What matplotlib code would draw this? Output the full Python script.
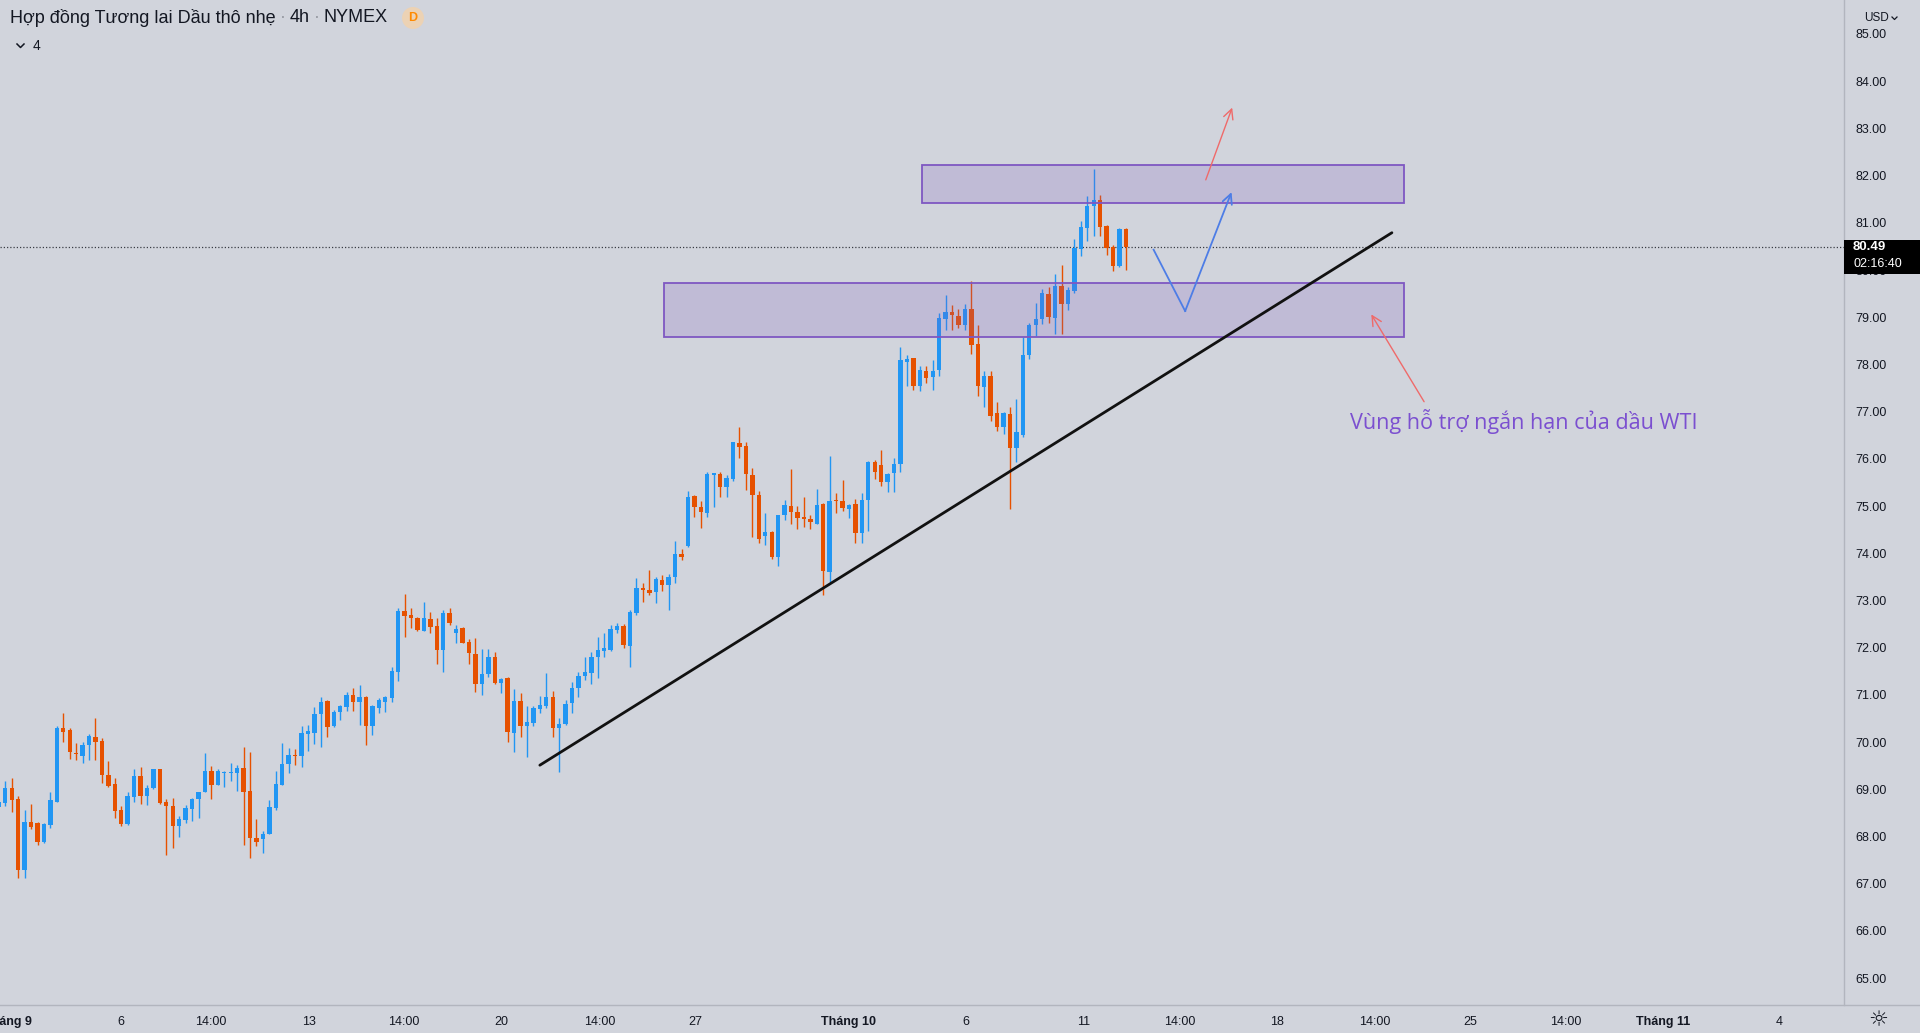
import matplotlib
matplotlib.use("Agg")
import matplotlib.pyplot as plt
import matplotlib.patches as mpatches
import matplotlib.transforms as mtransforms
from matplotlib.lines import Line2D

# ---------------- data (4h candles, Light Crude Oil Futures, NYMEX) ----------------
opens = [68.62, 68.71, 69.03, 68.79, 67.30, 68.30, 68.28, 67.89, 68.25, 68.74,
         70.30, 70.26, 69.75, 69.71, 69.93, 70.11, 70.03, 69.30, 69.11, 68.56,
         68.26, 68.84, 69.28, 68.86, 69.03, 69.42, 68.73, 68.65, 68.23, 68.35,
         68.59, 68.80, 68.95, 69.38, 69.09, 69.34, 69.35, 69.35, 69.45, 68.96,
         67.97, 67.95, 68.06, 68.61, 69.10, 69.53, 69.71, 69.71, 70.18, 70.20,
         70.59, 70.88, 70.33, 70.63, 70.75, 71.00, 70.84, 70.96, 70.33, 70.73,
         70.85, 70.94, 71.49, 72.78, 72.70, 72.63, 72.36, 72.61, 72.46, 71.94,
         72.73, 72.30, 72.42, 72.13, 71.86, 71.22, 71.44, 71.81, 71.26, 71.35,
         70.20, 70.88, 70.34, 70.41, 70.71, 70.77, 70.96, 70.30, 70.38, 70.82,
         71.14, 71.39, 71.47, 71.80, 71.93, 71.95, 72.37, 72.46, 72.04, 72.73,
         73.27, 73.22, 73.17, 73.43, 73.33, 73.50, 73.99, 74.16, 75.22, 74.97,
         74.85, 75.66, 75.68, 75.40, 75.57, 76.33, 76.27, 75.66, 75.24, 74.37,
         74.44, 73.91, 74.80, 75.00, 74.88, 74.77, 74.73, 74.63, 75.04, 73.61,
         75.13, 75.11, 74.94, 75.04, 74.42, 75.13, 75.94, 75.87, 75.50, 75.69,
         75.89, 78.06, 78.13, 77.55, 77.87, 77.74, 77.88, 78.96, 79.12, 79.03,
         78.84, 79.17, 78.43, 77.53, 77.76, 76.98, 76.68, 76.95, 76.22, 76.51,
         78.19, 78.84, 78.96, 79.49, 78.99, 79.66, 79.28, 79.56, 80.44, 80.90,
         81.36, 81.48, 80.93, 80.48, 80.09, 80.86]
highs = [68.80, 69.18, 69.24, 68.85, 68.56, 68.69, 68.31, 68.28, 68.95, 70.34,
         70.61, 70.29, 69.97, 70.01, 70.18, 70.52, 70.08, 69.60, 69.24, 68.64,
         68.95, 69.42, 69.48, 69.09, 69.42, 69.42, 68.79, 68.82, 68.44, 68.66,
         68.81, 68.94, 69.76, 69.49, 69.43, 69.39, 69.55, 69.51, 69.89, 69.79,
         68.38, 68.12, 68.78, 69.39, 69.97, 69.87, 69.85, 70.35, 70.36, 70.75,
         70.96, 70.89, 70.68, 70.78, 71.07, 71.14, 71.21, 70.98, 70.78, 70.94,
         70.98, 71.60, 72.83, 73.14, 72.85, 72.66, 72.97, 72.76, 72.62, 72.80,
         72.85, 72.48, 72.44, 72.18, 72.21, 71.98, 71.98, 71.91, 71.35, 71.37,
         71.12, 71.03, 70.76, 70.76, 70.98, 71.47, 71.08, 70.50, 70.89, 71.28,
         71.49, 71.80, 71.90, 72.22, 72.30, 72.48, 72.53, 72.50, 72.80, 73.48,
         73.38, 73.64, 73.50, 73.54, 73.57, 74.27, 74.09, 75.31, 75.23, 75.11,
         75.73, 75.71, 75.73, 75.66, 76.36, 76.67, 76.36, 75.80, 75.32, 74.86,
         74.48, 74.81, 75.13, 75.78, 75.00, 75.20, 74.81, 75.37, 75.07, 76.05,
         75.28, 75.56, 75.04, 75.14, 75.28, 75.96, 75.97, 76.19, 75.69, 76.01,
         78.36, 78.20, 78.14, 77.97, 77.97, 78.09, 79.08, 79.47, 79.26, 79.17,
         79.29, 79.77, 78.84, 77.86, 77.86, 77.21, 77.00, 77.09, 77.26, 78.59,
         78.87, 79.31, 79.59, 79.63, 79.91, 80.11, 79.65, 80.65, 81.03, 81.57,
         82.15, 81.59, 80.95, 80.53, 80.88, 80.88]
lows = [68.52, 68.64, 68.52, 67.11, 67.11, 68.15, 67.83, 67.87, 68.17, 68.74,
        70.01, 69.65, 69.63, 69.56, 69.62, 69.62, 69.14, 69.04, 68.40, 68.22,
        68.24, 68.73, 68.69, 68.66, 69.00, 68.69, 67.61, 67.75, 67.99, 68.29,
        68.33, 68.40, 68.95, 68.80, 69.08, 69.05, 69.18, 68.97, 67.82, 67.55,
        67.80, 67.65, 68.05, 68.57, 69.09, 69.34, 69.51, 69.48, 69.82, 69.95,
        69.90, 70.10, 70.31, 70.47, 70.66, 70.66, 70.36, 69.94, 70.15, 70.62,
        70.64, 70.85, 71.30, 72.23, 72.42, 72.36, 72.36, 72.32, 71.65, 71.49,
        72.47, 72.10, 72.09, 71.65, 71.07, 70.99, 71.38, 71.22, 71.03, 70.01,
        69.78, 70.10, 69.69, 70.33, 70.61, 70.73, 70.11, 69.37, 70.36, 70.62,
        70.96, 71.32, 71.23, 71.35, 71.81, 71.92, 72.30, 71.99, 71.60, 72.69,
        72.97, 73.12, 72.94, 73.19, 72.80, 73.38, 73.86, 74.14, 74.77, 74.53,
        74.77, 74.99, 75.20, 75.20, 75.52, 76.01, 75.34, 74.35, 74.21, 74.17,
        73.87, 73.73, 74.70, 74.62, 74.51, 74.56, 74.51, 74.62, 73.12, 73.40,
        74.85, 74.90, 74.74, 74.21, 74.22, 74.47, 75.57, 75.42, 75.30, 75.30,
        75.73, 77.54, 77.46, 77.44, 77.60, 77.45, 77.76, 78.73, 78.72, 78.77,
        78.72, 78.22, 77.33, 77.09, 76.80, 76.58, 76.53, 74.93, 75.94, 76.47,
        78.12, 78.60, 78.86, 78.87, 78.65, 78.65, 79.15, 79.52, 80.30, 80.62,
        80.71, 80.71, 80.32, 79.97, 80.07, 79.99]
closes = [68.73, 69.03, 68.78, 67.30, 68.30, 68.21, 67.89, 68.26, 68.77, 70.30,
          70.22, 69.78, 69.74, 69.94, 70.13, 70.01, 69.31, 69.07, 68.54, 68.27,
          68.85, 69.28, 68.86, 69.03, 69.42, 68.71, 68.65, 68.23, 68.37, 68.60,
          68.79, 68.94, 69.39, 69.09, 69.39, 69.37, 69.37, 69.45, 68.95, 67.97,
          67.89, 68.06, 68.63, 69.11, 69.53, 69.73, 69.70, 70.20, 70.23, 70.59,
          70.85, 70.31, 70.64, 70.77, 71.00, 70.84, 70.95, 70.33, 70.77, 70.89,
          70.96, 71.50, 72.78, 72.68, 72.62, 72.37, 72.62, 72.44, 71.94, 72.74,
          72.53, 72.39, 72.10, 71.88, 71.22, 71.44, 71.81, 71.26, 71.34, 70.22,
          70.88, 70.34, 70.42, 70.73, 70.79, 70.96, 70.30, 70.38, 70.81, 71.15,
          71.40, 71.49, 71.81, 71.94, 71.99, 72.39, 72.45, 72.06, 72.75, 73.27,
          73.22, 73.15, 73.45, 73.33, 73.50, 73.99, 73.93, 75.20, 74.97, 74.87,
          75.68, 75.69, 75.41, 75.60, 76.35, 76.26, 75.68, 75.23, 74.30, 74.44,
          73.91, 74.80, 75.02, 74.88, 74.74, 74.73, 74.67, 75.02, 73.63, 75.11,
          75.11, 74.95, 75.02, 74.42, 75.13, 75.93, 75.73, 75.50, 75.68, 75.89,
          78.10, 78.12, 77.55, 77.88, 77.72, 77.87, 78.98, 79.12, 79.05, 78.84,
          79.17, 78.41, 77.54, 77.76, 76.91, 76.68, 76.97, 76.22, 76.56, 78.20,
          78.84, 78.96, 79.51, 79.01, 79.66, 79.28, 79.58, 80.46, 80.91, 81.36,
          81.48, 80.92, 80.46, 80.09, 80.86, 80.49]

# time axis (bar index where each label sits) and labels
tick_bars = [1.4, 18.9, 32.9, 48.2, 62.9, 78.0, 93.3, 108.1, 131.9, 150.2,
             168.5, 183.4, 198.5, 213.7, 228.4, 243.3, 258.4, 276.4]
tick_labels = ["Tháng 9", "6", "14:00", "13", "14:00", "20", "14:00", "27",
               "Tháng 10", "6", "11", "14:00", "18", "14:00", "25", "14:00",
               "Tháng 11", "4"]
price_ticks = list(range(65, 86))

# drawings (bar index, price)
resistance_zone = (143.3, 218.2, 81.41, 82.23)
support_zone = (103.3, 218.2, 78.59, 79.72)
trend_bars = [84.0, 216.3]
trend_prices = [69.51, 80.79]
path_bars = [179.3, 184.2, 191.4]
path_prices = [80.43, 79.13, 81.65]
breakout_arrow = ((187.4, 81.91), (191.5, 83.44))
note_arrow = ((221.3, 77.21), (213.1, 79.06))
note_pos = (209.8, 76.80)
note_text = "Vùng hỗ trợ ngắn hạn của dầu WTI"
title_parts = ["Hợp đồng Tương lai Dầu thô nhẹ", "4h", "NYMEX"]
countdown = "02:16:40"

# ---------------- style ----------------
BG = "#d1d4dc"
UP = "#2196f3"
DOWN = "#e65100"
TXT = "#131722"
PURPLE = "#7e57c2"
FONT = ["Liberation Sans", "DejaVu Sans"]
plt.rcParams["font.family"] = FONT

W, H = 1920, 1033
fig = plt.figure(figsize=(W / 100, H / 100), dpi=100, facecolor=BG)
ax = fig.add_axes([0, 28 / H, 1844 / W, 1005 / H], facecolor=BG)

n = len(opens)
idx = list(range(n))
cols = [UP if c >= o else DOWN for o, c in zip(opens, closes)]
bottoms = [min(o, c) for o, c in zip(opens, closes)]
heights = [max(abs(c - o), 0.025) for o, c in zip(opens, closes)]
ax.vlines(idx, lows, highs, colors=cols, linewidth=1.0, zorder=2)
ax.bar(idx, heights, bottom=bottoms, width=0.68, color=cols, linewidth=0, zorder=3)

ax.set_xlim(0.177, 286.5)
ax.set_ylim(64.43, 85.72)

# last price dotted line
last = closes[-1]
ax.axhline(last, color="#3a3d45", linewidth=0.9, linestyle=(0, (1, 1.6)), zorder=1)

# zones
for (x0, x1, y0, y1) in (resistance_zone, support_zone):
    ax.add_patch(mpatches.Rectangle((x0, y0), x1 - x0, y1 - y0,
                                    facecolor=(126 / 255, 87 / 255, 194 / 255, 0.2),
                                    edgecolor=PURPLE, linewidth=1.3, zorder=4))

# trend line
ax.plot(trend_bars, trend_prices, color="#111111", linewidth=2.0,
        solid_capstyle="round", zorder=5)

# expected path
PBLUE = "#4d7de6"
ax.plot(path_bars[:2], path_prices[:2], color=PBLUE, linewidth=1.3, zorder=5)
ax.annotate("", xy=(path_bars[2], path_prices[2]), xytext=(path_bars[1], path_prices[1]),
            arrowprops=dict(arrowstyle="->,head_length=0.7,head_width=0.35",
                            color=PBLUE, lw=1.3, shrinkA=0, shrinkB=0), zorder=5)

RED = "#ef6a6a"
for (a, b) in (breakout_arrow, note_arrow):
    ax.annotate("", xy=b, xytext=a,
                arrowprops=dict(arrowstyle="->,head_length=0.7,head_width=0.35",
                                color=RED, lw=1.0, shrinkA=0, shrinkB=0), zorder=5)

ax.text(note_pos[0], note_pos[1], note_text, color="#7b4fd0", fontsize=15.6,
        family=["Open Sans", "DejaVu Sans"], va="center", ha="left", zorder=6)

# axes styling
for s in ("top", "left", "bottom"):
    ax.spines[s].set_visible(False)
ax.spines["right"].set_color("#b2b5be")
ax.spines["right"].set_linewidth(1.0)
ax.yaxis.tick_right()
ax.set_yticks(price_ticks)
ax.set_yticklabels([f"{p:.2f}" for p in price_ticks])
ax.tick_params(axis="y", length=0, pad=8, labelsize=9, labelcolor=TXT)
ax.set_xticks(tick_bars)
ax.set_xticklabels(tick_labels)
ax.tick_params(axis="x", length=0, pad=8, labelsize=9, labelcolor=TXT)
for lab in ax.get_xticklabels():
    lab.set_family(["Liberation Sans Narrow", "Liberation Sans", "DejaVu Sans"])
    if lab.get_text().startswith("Tháng"):
        lab.set_fontweight("bold")

# separator line under chart across full width
fig.add_artist(Line2D([0, 1], [28 / H, 28 / H], transform=fig.transFigure,
                      color="#b2b5be", linewidth=1.0))

# last price label box
blend = mtransforms.blended_transform_factory(fig.transFigure, ax.transData)
ax.add_patch(mpatches.Rectangle((1844 / W, last - 0.57), 76 / W, 0.71,
                                transform=blend, facecolor="black", edgecolor="none",
                                clip_on=False, zorder=10))
ax.text(1853 / W, last + 0.0, f"{last:.2f}", transform=blend, color="white",
        fontsize=9.5, fontweight="bold", va="center", ha="left", clip_on=False, zorder=11)
ax.text(1853 / W, last - 0.36, countdown, transform=blend, color="white",
        fontsize=9, va="center", ha="left", clip_on=False, zorder=11)

# title row
fig.canvas.draw()
r = fig.canvas.get_renderer()
x = 10
ty = 1 - 18 / H
for i, part in enumerate(title_parts):
    t = fig.text(x / W, ty, part, fontsize=13, color=TXT, va="center", ha="left")
    x += t.get_window_extent(r).width
    if i < len(title_parts) - 1:
        fig.text((x + 7) / W, ty, "·", fontsize=13, color="#9598a1",
                 va="center", ha="center")
        x += 14
fig.add_artist(mpatches.Ellipse((413 / W, ty), 22 / W, 22 / H, transform=fig.transFigure,
                                facecolor="#ecd2b4", edgecolor="none"))
fig.text(413 / W, ty, "D", fontsize=9, color="#ff8a00", fontweight="bold",
         va="center", ha="center")

# collapse chevron + count
fig.add_artist(Line2D([17 / W, 20.5 / W, 24 / W], [1 - 44 / H, 1 - 47.5 / H, 1 - 44 / H],
                      transform=fig.transFigure, color=TXT, linewidth=1.1))
fig.text(33 / W, 1 - 46 / H, "4", fontsize=10, color=TXT, va="center", ha="left")

# currency selector
fig.text(1864 / W, 1 - 18 / H, "USD", fontsize=8.5, color=TXT, va="center", ha="left")
fig.add_artist(Line2D([1892 / W, 1894.5 / W, 1897 / W], [1 - 17 / H, 1 - 19.5 / H, 1 - 17 / H],
                      transform=fig.transFigure, color=TXT, linewidth=0.9))

# settings icon
fig.text(1878 / W, 1 - 1020 / H, "☼", fontsize=16, color=TXT, va="center", ha="center",
         family=["DejaVu Sans"])

fig.savefig("out.png", dpi=100, facecolor=BG)
